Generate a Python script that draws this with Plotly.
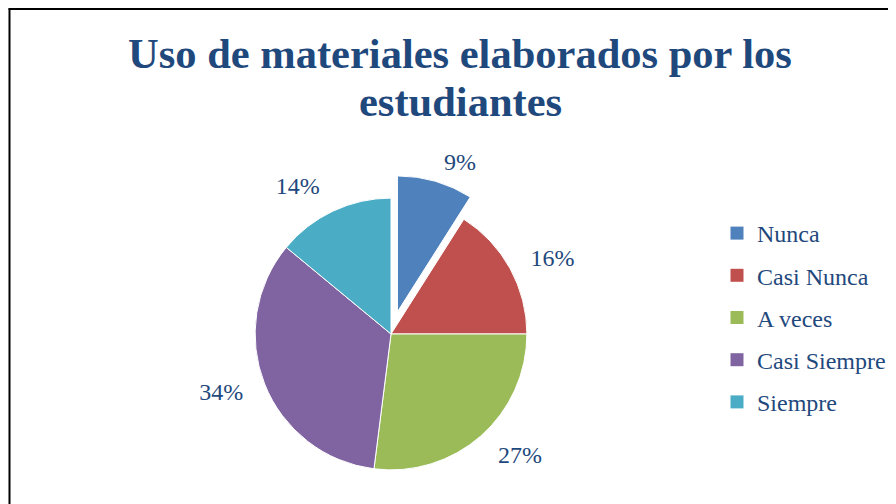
import plotly.graph_objects as go

categories = ["Nunca", "Casi Nunca", "A veces", "Casi Siempre", "Siempre"]
values = [9, 16, 27, 34, 14]
colors = ["#4F81BD", "#C0504D", "#9BBB59", "#8064A2", "#4BACC6"]
pulls = [0.17, 0, 0, 0, 0]
label_pulls = [0.10, 0, 0, 0, 0]
title_line1 = "Uso de materiales elaborados por los"
title_line2 = "estudiantes"

# figure is drawn 8px in from the page corner (page body margin)
W, H = 888, 496
TXT = "#1F497D"
FONT = "Liberation Serif"


def px(x):
    return x / W


def py(y):
    return 1 - y / H


fig = go.Figure()
# transparent copy of the pie, slightly larger, only to carry the % labels
fig.add_trace(go.Pie(
    labels=categories, values=values, sort=False, direction="clockwise",
    rotation=0, pull=label_pulls, automargin=False,
    marker=dict(colors=["rgba(0,0,0,0)"] * len(values), line=dict(width=0)),
    textposition="outside", texttemplate="%{percent:.0%}",
    textfont=dict(family=FONT, size=24, color=TXT),
    showlegend=False, hoverinfo="skip",
    domain=dict(x=[px(216), px(550)], y=[py(493), py(159)]),
))
fig.add_trace(go.Pie(
    labels=categories, values=values, sort=False, direction="clockwise",
    rotation=0, pull=pulls, automargin=False,
    marker=dict(colors=colors, line=dict(color="white", width=1)),
    textinfo="none",
    showlegend=False, hoverinfo="label+percent",
    domain=dict(x=[px(224), px(542)], y=[py(485), py(167)]),
))
for i, (c, col) in enumerate(zip(categories, colors)):
    fig.add_trace(go.Scatter(
        x=[None], y=[None], mode="markers", name=c, legendgroup=f"g{i}",
        marker=dict(symbol="square", size=13, color=col),
    ))

fig.update_layout(
    width=W, height=H, margin=dict(l=0, r=0, t=0, b=0, autoexpand=False),
    paper_bgcolor="white", plot_bgcolor="white",
    xaxis=dict(visible=False), yaxis=dict(visible=False),
    title=dict(text=title_line1, x=px(452), xanchor="center", y=py(45),
               yanchor="middle", yref="container",
               font=dict(family=FONT, size=42.5, color=TXT, weight="bold")),
    annotations=[dict(text=title_line2, xref="paper", yref="paper",
                      x=px(453), y=py(93), xanchor="center", yanchor="middle",
                      showarrow=False,
                      font=dict(family=FONT, size=42.5, color=TXT, weight="bold"))],
    legend=dict(x=px(709), xanchor="left", y=py(203), yanchor="top",
                font=dict(family=FONT, size=24, color=TXT),
                tracegroupgap=8, bgcolor="rgba(0,0,0,0)"),
    shapes=[
        dict(type="line", xref="paper", yref="paper",
             x0=px(1.5), x1=px(1.5), y0=-0.05, y1=py(0.5),
             line=dict(color="black", width=2)),
        dict(type="line", xref="paper", yref="paper",
             x0=px(0.5), x1=1.05, y0=py(1), y1=py(1),
             line=dict(color="black", width=2)),
    ],
)
fig.write_html("out.html")
